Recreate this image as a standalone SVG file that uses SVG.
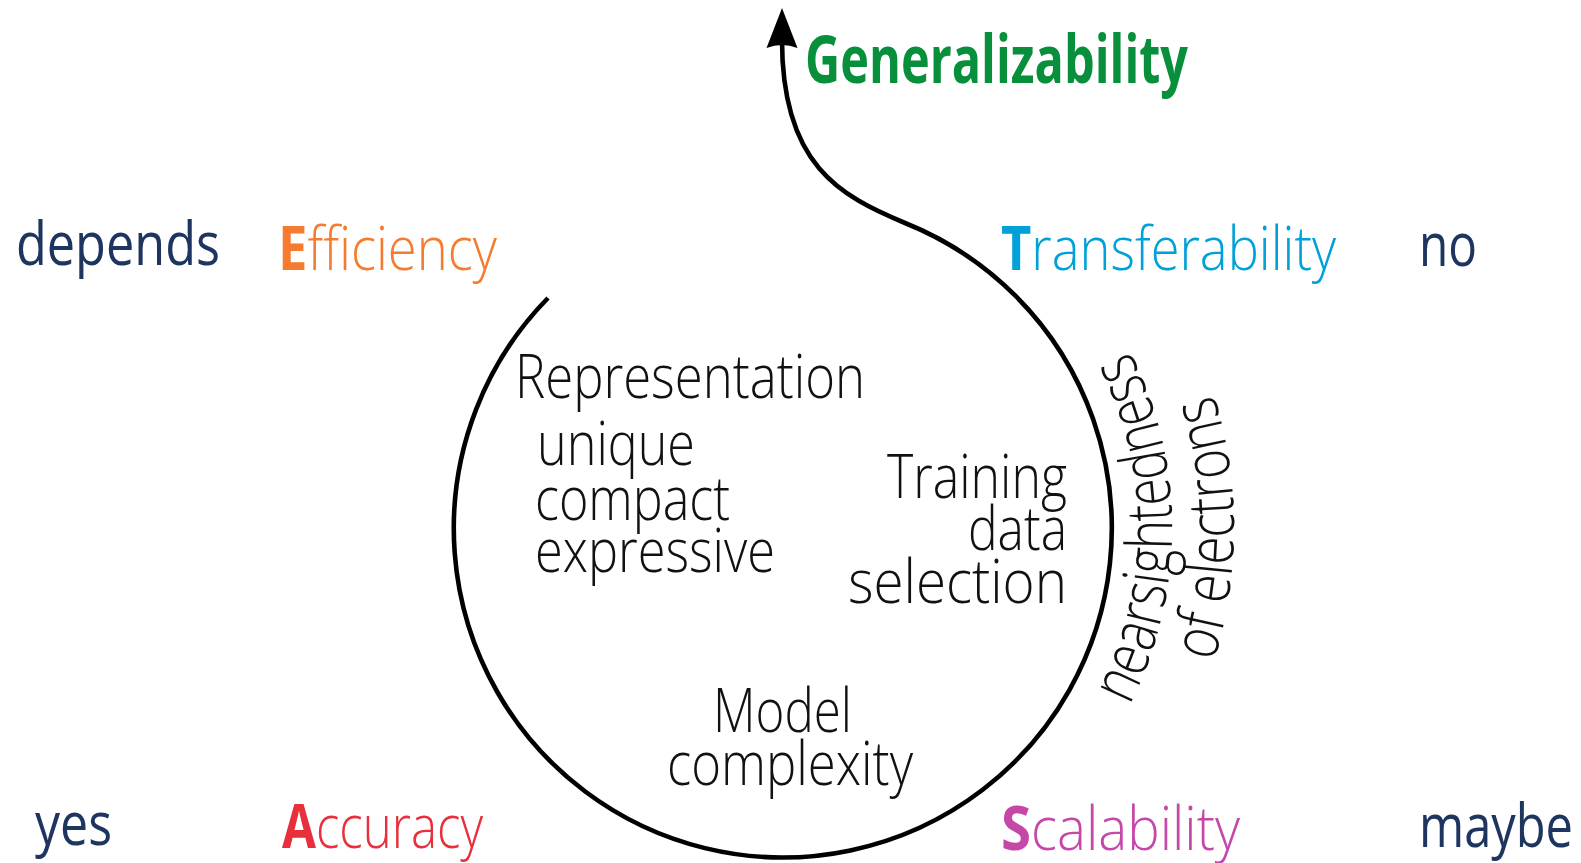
<svg xmlns="http://www.w3.org/2000/svg" width="1581" height="863" viewBox="0 0 1581 863">
  <style>
    .thin { font-family: "Open Sans", Roboto, "Noto Sans", sans-serif; font-weight: 300; font-size: 60px; fill: #111; }
    .cap { font-weight: 700; }
    .answer { font-family: "Open Sans", "Noto Sans", sans-serif; font-weight: 400; font-size: 60px; fill: #1e3560; }
    .title { font-family: "Open Sans", "Noto Sans", sans-serif; font-weight: 700; font-size: 67px; fill: #088f3b; }
    .spiral { fill: none; stroke: #000; stroke-width: 4.6; stroke-linecap: butt; }
  </style>
  <defs>
    <marker id="arrowhead" markerUnits="userSpaceOnUse" viewBox="-10 -17 44 34" markerWidth="44" markerHeight="34" refX="0" refY="0" orient="auto">
      <path d="M32,0 L-8,-15.5 Q-2,0 -8,15.5 Z" fill="#000"/>
    </marker>
    <!-- arcs outside the spiral used for the curved caption -->
    <path id="arcInner" d="M1057.8,803.8 A390,390 0 0 0 1057.8,252.2"/>
    <path id="arcOuter" d="M1101.6,847.6 A452,452 0 0 0 1101.6,208.4"/>
  </defs>

  <!-- spiral: circle opening at the upper left, leaving to the top as an arrow -->
  <g id="connectors">
    <path class="spiral" marker-end="url(#arrowhead)"
          d="M548,298 A329,329 0 1 0 905,223 C840,196 782,165 782,40"/>
  </g>

  <g id="generalizability">
    <text class="title" x="805" y="83" textLength="383" lengthAdjust="spacingAndGlyphs">Generalizability</text>
  </g>

  <g id="efficiency">
    <text class="answer" x="16" y="265" textLength="204" lengthAdjust="spacingAndGlyphs">depends</text>
    <text class="thin" x="278" y="270" textLength="219" lengthAdjust="spacingAndGlyphs" style="fill:#f47b30"><tspan class="cap">E</tspan>fficiency</text>
  </g>

  <g id="transferability">
    <text class="thin" x="1001" y="270" textLength="335" lengthAdjust="spacingAndGlyphs" style="fill:#00a0d8"><tspan class="cap">T</tspan>ransferability</text>
    <text class="answer" x="1419" y="266" textLength="58" lengthAdjust="spacingAndGlyphs">no</text>
  </g>

  <g id="accuracy">
    <text class="answer" x="35" y="845" textLength="77" lengthAdjust="spacingAndGlyphs">yes</text>
    <text class="thin" x="282" y="848" textLength="201" lengthAdjust="spacingAndGlyphs" style="fill:#e7303b"><tspan class="cap">A</tspan>ccuracy</text>
  </g>

  <g id="scalability">
    <text class="thin" x="1001" y="850" textLength="239" lengthAdjust="spacingAndGlyphs" style="fill:#c548a9"><tspan class="cap">S</tspan>calability</text>
    <text class="answer" x="1419" y="847" textLength="154" lengthAdjust="spacingAndGlyphs">maybe</text>
  </g>

  <g id="representation">
    <text class="thin" x="515" y="398" textLength="350" lengthAdjust="spacingAndGlyphs">Representation</text>
    <text class="thin" x="537" y="465" textLength="158" lengthAdjust="spacingAndGlyphs">unique</text>
    <text class="thin" x="535" y="520" textLength="195" lengthAdjust="spacingAndGlyphs">compact</text>
    <text class="thin" x="535" y="572" textLength="240" lengthAdjust="spacingAndGlyphs">expressive</text>
  </g>

  <g id="training-data">
    <text class="thin" x="887" y="498" textLength="180" lengthAdjust="spacingAndGlyphs">Training</text>
    <text class="thin" x="968" y="550" textLength="99" lengthAdjust="spacingAndGlyphs">data</text>
    <text class="thin" x="848" y="603" textLength="219" lengthAdjust="spacingAndGlyphs">selection</text>
  </g>

  <g id="model-complexity">
    <text class="thin" x="713" y="732" textLength="139" lengthAdjust="spacingAndGlyphs">Model</text>
    <text class="thin" x="667" y="785" textLength="246" lengthAdjust="spacingAndGlyphs">complexity</text>
  </g>

  <g id="nearsightedness">
    <text class="thin" style="font-size:64px"><textPath href="#arcInner" startOffset="50%" text-anchor="middle" textLength="368" lengthAdjust="spacingAndGlyphs">nearsightedness</textPath></text>
    <text class="thin" style="font-size:64px"><textPath href="#arcOuter" startOffset="50%" text-anchor="middle" textLength="272" lengthAdjust="spacingAndGlyphs">of electrons</textPath></text>
  </g>
</svg>
